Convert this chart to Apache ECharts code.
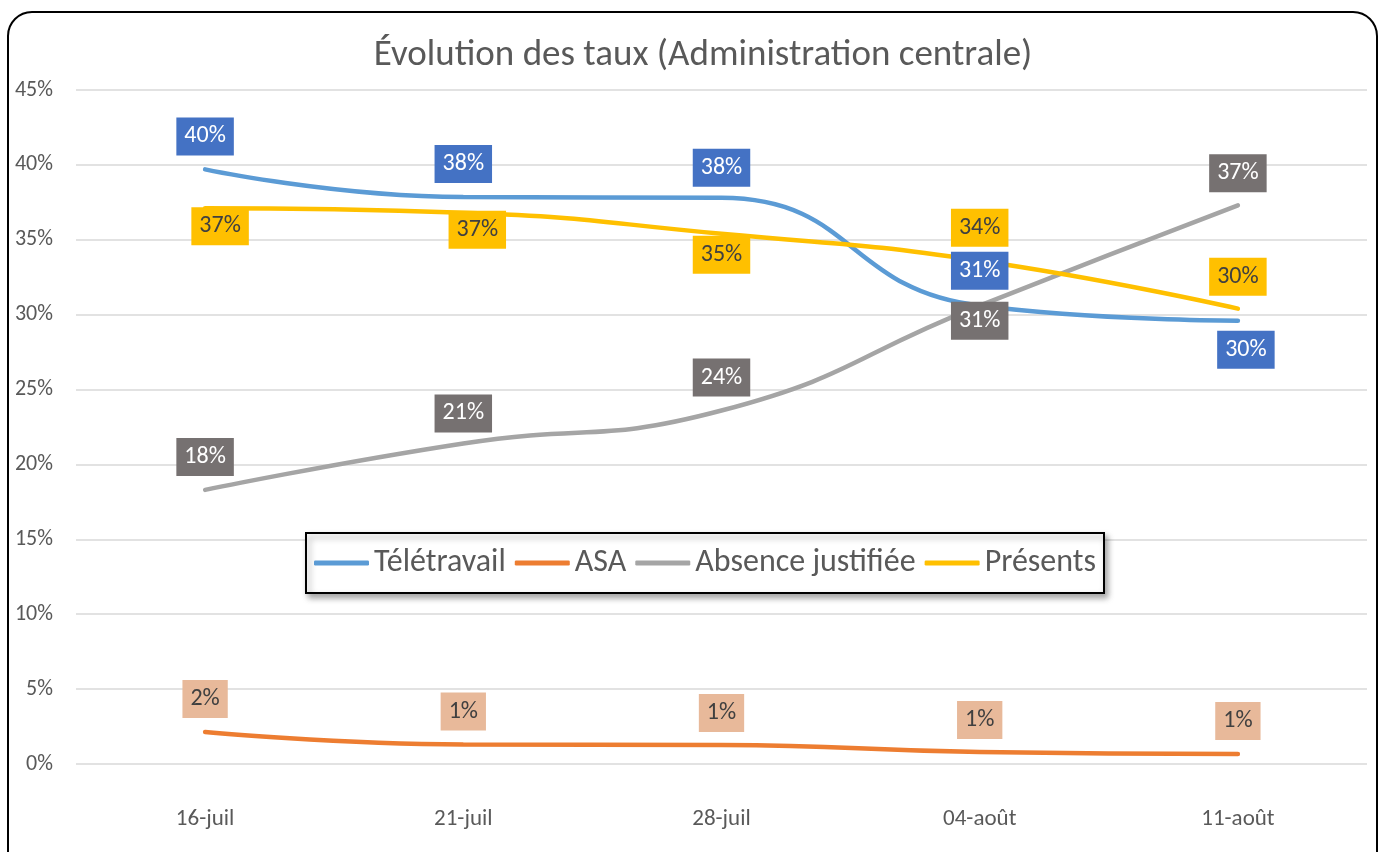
<!DOCTYPE html>
<html>
<head>
<meta charset="utf-8">
<script src="https://cdn.jsdelivr.net/npm/echarts@6/dist/echarts.min.js"></script>
<style>
  html, body { margin: 0; padding: 0; background: #fff; }
  #chart { width: 1379px; height: 852px; }
</style>
</head>
<body>
<div id="chart"></div>
<script>
// données (en %)
var dates = ['16-juil', '21-juil', '28-juil', '04-août', '11-août'];
var teletravail = [39.7, 37.85, 37.8, 30.6, 29.6];
var asa = [2.14, 1.3, 1.27, 0.8, 0.67];
var absence = [18.3, 21.4, 23.6, 30.6, 37.3];
var presents = [37.1, 36.8, 35.4, 33.6, 30.4];
var yTicks = [0, 5, 10, 15, 20, 25, 30, 35, 40, 45];

// décalage des étiquettes (px) par rapport au point
var nudgeTele = [[0, -33], [0, -33], [0, -30], [0, -35], [8, 29]];
var nudgeAsa = [[0, -33], [0, -33], [0, -32], [0, -32], [0, -33]];
var nudgeAbs = [[0, -33], [0, -30], [0, -33], [0, 15], [0, -32]];
var nudgePres = [[15, 18], [14, 17], [0, 21], [0, -33], [0, -32]];

var FONT = 'Carlito, Lato, sans-serif';

function withLabels(values, nudges) {
    return values.map(function (v, i) {
        return { value: v, label: { offset: nudges[i] } };
    });
}

function makeSeries(name, values, nudges, lineColor, boxColor, textColor) {
    return {
        name: name,
        type: 'line',
        smooth: 0.5,
        symbol: 'circle',
        symbolSize: 1,
        showSymbol: true,
        data: withLabels(values, nudges),
        itemStyle: { color: lineColor },
        lineStyle: { width: 4.5, color: lineColor, cap: 'round' },
        label: {
            show: true,
            position: 'inside',
            formatter: function (p) { return Math.round(p.value) + '%'; },
            backgroundColor: boxColor,
            color: textColor,
            fontFamily: FONT,
            fontSize: 24,
            lineHeight: 22,
            padding: [8, 8]
        },
        emphasis: { disabled: true }
    };
}

var chart = echarts.init(document.getElementById('chart'));
var option = {
    animation: false,
    backgroundColor: '#fff',
    graphic: [{
        type: 'rect',
        z: -10,
        silent: true,
        shape: { x: 8, y: 12, width: 1369, height: 880, r: 24 },
        style: { fill: '#fff', stroke: '#000', lineWidth: 2 }
    }],
    title: {
        text: 'Évolution des taux (Administration centrale)',
        left: 698,
        textAlign: 'center',
        top: 32,
        textStyle: { fontFamily: FONT, fontSize: 37, fontWeight: 'normal', color: '#595959' }
    },
    legend: {
        left: 306,
        top: 533,
        icon: 'roundRect',
        itemWidth: 55,
        itemHeight: 5,
        itemGap: 9,
        padding: [14, 8],
        backgroundColor: '#fff',
        borderColor: '#000',
        borderWidth: 2,
        shadowBlur: 6,
        shadowOffsetX: 3,
        shadowOffsetY: 4,
        shadowColor: 'rgba(0,0,0,0.35)',
        textStyle: { fontFamily: FONT, fontSize: 32, color: '#595959' },
        data: ['Télétravail', 'ASA', 'Absence justifiée', 'Présents']
    },
    grid: { left: 76, right: 12, top: 90, bottom: 88 },
    xAxis: {
        type: 'category',
        data: dates,
        boundaryGap: true,
        axisLine: { show: false },
        axisTick: { show: false },
        axisLabel: { margin: 44, fontFamily: FONT, fontSize: 23, color: '#595959' }
    },
    yAxis: {
        type: 'value',
        min: yTicks[0],
        max: yTicks[yTicks.length - 1],
        interval: 5,
        axisLine: { show: false },
        axisTick: { show: false },
        axisLabel: { formatter: '{value}%', margin: 23, fontFamily: FONT, fontSize: 22, color: '#595959' },
        splitLine: { lineStyle: { color: '#D9D9D9', width: 1.5 } }
    },
    series: [
        makeSeries('Télétravail', teletravail, nudgeTele, '#5B9BD5', '#4472C4', '#fff'),
        makeSeries('ASA', asa, nudgeAsa, '#ED7D31', '#E8B99A', '#404040'),
        makeSeries('Absence justifiée', absence, nudgeAbs, '#A5A5A5', '#767171', '#fff'),
        makeSeries('Présents', presents, nudgePres, '#FFC000', '#FFC000', '#404040')
    ]
};
chart.setOption(option);
</script>
</body>
</html>
